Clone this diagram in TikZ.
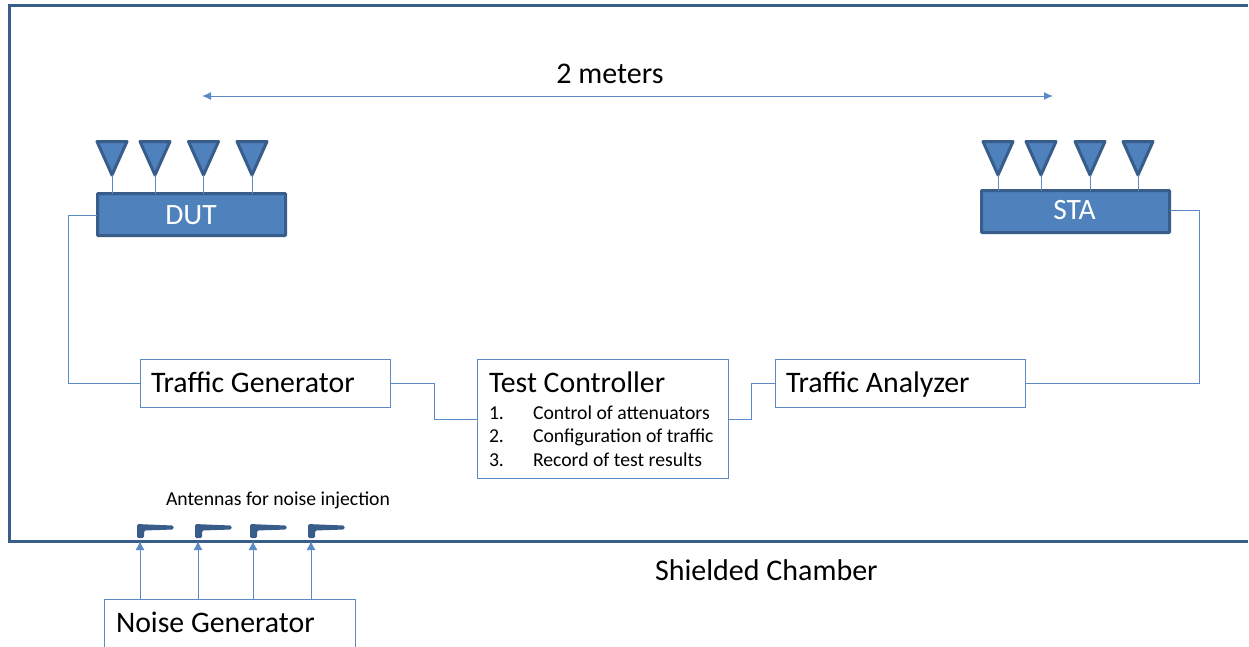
\documentclass[tikz,border=0pt]{standalone}
\usepackage{fontspec}
\setmainfont{Carlito}
\usetikzlibrary{arrows.meta}
\definecolor{fillblue}{HTML}{4F81BD}
\definecolor{darkblue}{HTML}{385D8A}
\definecolor{thinblue}{HTML}{5B8BC6}
\tikzset{
  x=1pt,y=-1pt,
  every node/.style={outer sep=0pt},
  solid box/.style={draw=darkblue,line width=3pt,fill=fillblue,rounded corners=0.8pt,inner sep=0pt,anchor=north west},
  plain box/.style={draw=thinblue,line width=1pt,fill=white,inner sep=0pt,anchor=north west},
  wire/.style={draw=thinblue,line width=1pt},
  arrow wire/.style={wire,-{Latex[length=9pt,width=9pt]}},
  antenna/.style={draw=darkblue,line width=3pt,fill=fillblue,line join=round},
  big/.style={font=\fontsize{29.8}{34}\selectfont,text=black,anchor=base west,inner sep=0pt},
  small/.style={font=\fontsize{19.7}{23}\selectfont,text=black,anchor=base west,inner sep=0pt},
  boxlabel/.style={font=\fontsize{29.5}{34}\selectfont,text=white,anchor=base,inner sep=0pt},
  label big/.style={font=\fontsize{30}{35}\selectfont,text=black,inner sep=0pt},
}
\newcommand{\triant}[2]{%
  \coordinate (#1) at (#2,175);
  \draw[antenna] (#2-15,141.5) -- (#2+15,141.5) -- (#1) -- cycle;}
\newcommand{\bentant}[2]{%
  \coordinate (#1) at (#2,541);
  \fill[darkblue,rounded corners=1.5pt] (#2-3,524) -- (#2+20,525) -- (#2+33.5,525.5) -- (#2+33.5,529.5) -- (#2+4,530.5) -- (#2+4,538) -- (#2-3,538) -- cycle;}
\begin{document}
\begin{tikzpicture}
\useasboundingbox (0,0) rectangle (1249,646);
% chamber: its right side lies beyond the picture, so three sides show
\node[inner sep=0pt,minimum width=1239pt,minimum height=536.5pt,anchor=north west] (chamber) at (9,5) {};
\draw[darkblue,line width=3pt,line join=miter] (chamber.north east) -- (chamber.north west) -- (chamber.south west) -- (chamber.south east);
% boxes
\node[solid box,minimum width=188pt,minimum height=42pt] (dut) at (97.5,193.5) {};
\node[solid box,minimum width=188pt,minimum height=42pt] (sta) at (981.5,190.5) {};
\node[boxlabel] (dutt) at (191,224) {DUT};
\node[boxlabel] (stat) at (1074.5,219.5) {STA};
\node[plain box,minimum width=250pt,minimum height=48pt] (tg) at (140,359) {};
\node[plain box,minimum width=251pt,minimum height=119pt] (tc) at (477,359) {};
\node[plain box,minimum width=250pt,minimum height=48pt] (ta) at (775,359) {};
\node[plain box,minimum width=251pt,minimum height=48pt] (ng) at (104,599) {};
% box texts
\node[big] (tgt) at (151,392.5) {Traffic Generator};
\node[big] (tat) at (786,392.5) {Traffic Analyzer};
\node[big] (tct) at (489,392.5) {Test Controller};
\node[big] (ngt) at (116,632.5) {Noise Generator};
\node[small] (n1) at (489,419) {1.};
\node[small] (l1) at (533,419) {Control of attenuators};
\node[small] (n2) at (489,442) {2.};
\node[small] (l2) at (533,442) {Configuration of traffic};
\node[small] (n3) at (489,466) {3.};
\node[small] (l3) at (533,466) {Record of test results};
% free labels
\node[label big,anchor=base] (meters) at (610,83) {2 meters};
\node[small] (ant) at (166,505) {Antennas for noise injection};
\node[label big,anchor=base west] (shield) at (655,580) {Shielded Chamber};
% distance arrow
\coordinate (dl) at (202,96);
\coordinate (dr) at (1053,96);
\draw[wire,{Latex[length=9pt,width=8pt]}-{Latex[length=9pt,width=8pt]}] (dl) -- (dr);
% DUT antennas
\foreach \n/\x in {a1/112,a2/155,a3/203.5,a4/252}{
  \triant{\n}{\x}
  \draw[wire] (\n) -- (\n |- dut.north);
}
% STA antennas
\foreach \n/\x in {b1/998,b2/1041,b3/1090,b4/1138}{
  \triant{\n}{\x}
  \draw[wire] (\n) -- (\n |- sta.north);
}
% noise antennas
\foreach \n/\x in {c1/140,c2/198,c3/253,c4/311}{
  \bentant{\n}{\x}
  \draw[arrow wire] (\n |- ng.north) -- (\n);
}
% connectors
\coordinate (dutl) at (97,215);
\coordinate (stal) at (1170,210);
\draw[wire] (dutl) -- (68,215) -- (68,383) -- (tg.west);
\draw[wire] (tg.east) -- (434,383) -- (434,419) -- (tc.west |- 0,419);
\draw[wire] (tc.east |- 0,419) -- (751,419) -- (751,383) -- (ta.west);
\draw[wire] (stal) -- (1199,210) -- (1199,383) -- (ta.east);
\end{tikzpicture}
\end{document}
